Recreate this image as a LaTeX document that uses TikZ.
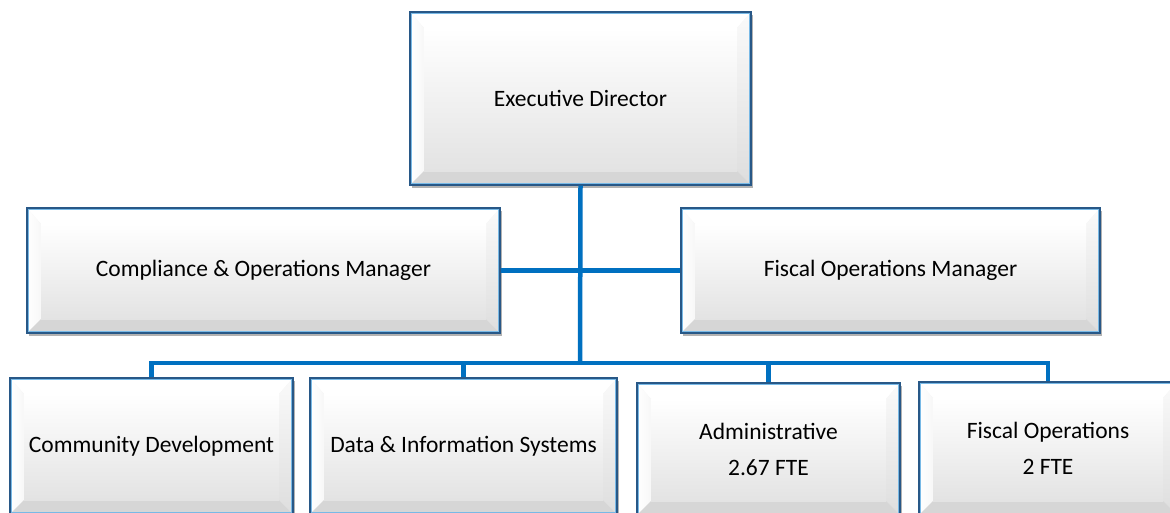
\documentclass[tikz,border=0pt]{standalone}
\usepackage{fontspec}
\setmainfont{Carlito}
\usetikzlibrary{shadows}
\definecolor{conn}{RGB}{0,112,192}
\definecolor{boxedge}{RGB}{40,88,135}
\definecolor{boxinner}{RGB}{120,185,230}
\tikzset{
  conn/.style={draw=conn, line width=4.5pt, line join=miter},
  orgbox/.style={draw=boxedge, line width=1.4pt, fill=gray!12,
    font=\fontsize{23.5}{36}\selectfont, align=center, inner sep=0pt,
    drop shadow={shadow xshift=1.5pt, shadow yshift=-2.5pt, opacity=0.3, fill=black},
    path picture={
      \coordinate (nw) at (path picture bounding box.north west);
      \coordinate (ne) at (path picture bounding box.north east);
      \coordinate (sw) at (path picture bounding box.south west);
      \coordinate (se) at (path picture bounding box.south east);
      \coordinate (inw) at ([xshift=14pt,yshift=-16pt]nw);
      \coordinate (ine) at ([xshift=-14pt,yshift=-16pt]ne);
      \coordinate (isw) at ([xshift=14pt,yshift=14pt]sw);
      \coordinate (ise) at ([xshift=-14pt,yshift=14pt]se);
      \fill[white] (nw) -- (ne) -- (ine) -- (inw) -- cycle;
      \shade[left color=white, right color=gray!6] (nw) -- (inw) -- (isw) -- (sw) -- cycle;
      \shade[top color=gray!4, bottom color=gray!26] (ne) -- (se) -- (ise) -- (ine) -- cycle;
      \fill[gray!32] (sw) -- (isw) -- (ise) -- (se) -- cycle;
      \shade[top color=white, bottom color=gray!22] (inw) rectangle (ise);
      \draw[boxinner, line width=1pt] ([xshift=1.4pt,yshift=-1.4pt]nw) rectangle ([xshift=-1.4pt,yshift=1.4pt]se);
    }}
}
\begin{document}
\begin{tikzpicture}[x=1pt,y=-1pt]
\clip (0,0) rectangle (1170,512);
\fill[white] (0,0) rectangle (1170,512);
\coordinate (bus) at (580,363);
\node[orgbox, minimum width=341pt, minimum height=173pt] (ed) at (580.5,98.5) {Executive Director};
\node[orgbox, minimum width=473pt, minimum height=125pt] (cm) at (263.5,270.5) {Compliance \& Operations Manager};
\node[orgbox, minimum width=419pt, minimum height=125pt] (fm) at (890.5,270.5) {Fiscal Operations Manager};
\node[orgbox, minimum width=283pt, minimum height=136pt] (cd) at (151.5,446) {Community Development};
\node[orgbox, minimum width=307pt, minimum height=136pt] (di) at (463.5,446) {Data \& Information Systems};
\node[orgbox, minimum width=263pt, minimum height=132pt] (ad) at (768.5,449) {Administrative\\2.67 FTE};
\node[orgbox, minimum width=258pt, minimum height=133pt] (fo) at (1048,448.5) {Fiscal Operations\\2 FTE};
\draw[conn] (ed.south) -- (bus);
\draw[conn] (cm.east) -- (fm.west);
\draw[conn] (cd.north) -- (cd.north |- bus) -- (fo.north |- bus) -- (fo.north);
\draw[conn] (di.north) -- (di.north |- bus);
\draw[conn] (ad.north) -- (ad.north |- bus);
\end{tikzpicture}
\end{document}
